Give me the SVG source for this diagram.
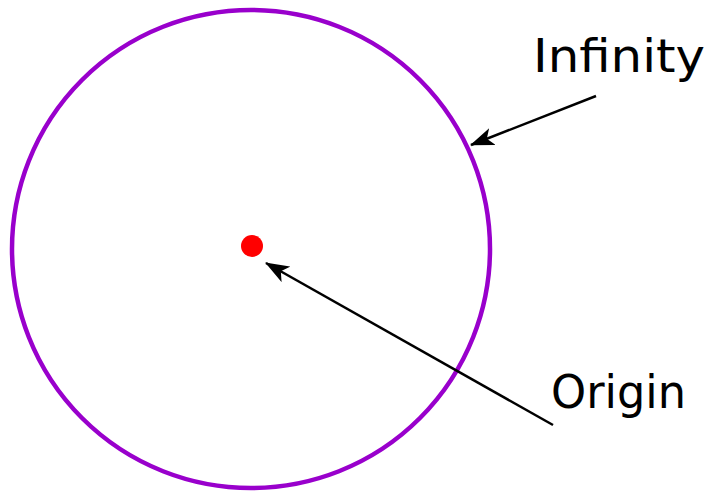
<svg xmlns="http://www.w3.org/2000/svg" width="712" height="491" viewBox="0 0 712 491">
<style>
.lbl{font-family:"Comic Sans MS","DejaVu Sans","Liberation Sans",sans-serif;font-size:46px;fill:#000}
.conn{stroke:#000;stroke-width:2.5;fill:none}
</style>
<defs>
<marker id="ah" viewBox="0 0 24 18" refX="23" refY="9" markerWidth="24" markerHeight="18" markerUnits="userSpaceOnUse" orient="auto">
<path d="M0,0 L24,9 L0,18 L6,9 Z" fill="#000"/>
</marker>
</defs>
<rect width="712" height="491" fill="#fff"/>
<g id="infinity-circle">
<circle cx="251" cy="249" r="239" fill="none" stroke="#9900CC" stroke-width="4.5"/>
</g>
<g id="origin-dot">
<circle cx="252" cy="246" r="11" fill="#FF0000"/>
</g>
<g id="connectors">
<line class="conn" x1="596" y1="96" x2="471" y2="145" marker-end="url(#ah)"/>
<line class="conn" x1="553" y1="425" x2="266" y2="263" marker-end="url(#ah)"/>
</g>
<g id="label-infinity">
<text class="lbl" x="533" y="72" textLength="172" lengthAdjust="spacingAndGlyphs">Infinity</text>
</g>
<g id="label-origin">
<text class="lbl" x="551" y="408" textLength="135" lengthAdjust="spacingAndGlyphs">Origin</text>
</g>
</svg>
